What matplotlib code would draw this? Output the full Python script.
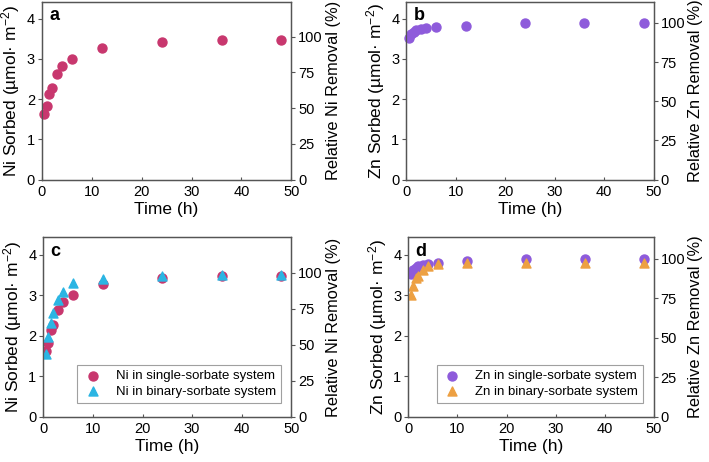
import matplotlib
matplotlib.use("Agg")
import matplotlib.pyplot as plt

plt.rcParams["font.family"] = ["Liberation Sans", "DejaVu Sans"]
plt.rcParams["mathtext.default"] = "regular"

# sampling times (h)
time_h = [0.5, 1, 1.5, 2, 3, 4, 6, 12, 24, 36, 48]

# sorbed amounts (umol m-2)
ni_single = [1.63, 1.83, 2.13, 2.27, 2.62, 2.83, 3.01, 3.27, 3.41, 3.47, 3.48]
ni_binary = [1.55, 1.96, 2.30, 2.56, 2.88, 3.07, 3.30, 3.40, 3.47, 3.49, 3.49]
zn_single = [3.51, 3.63, 3.67, 3.72, 3.74, 3.77, 3.79, 3.83, 3.89, 3.89, 3.89]
zn_binary = [3.01, 3.23, 3.43, 3.48, 3.63, 3.71, 3.76, 3.78, 3.78, 3.78, 3.78]

ni_full = 3.556  # sorbed amount that equals 100 % removal
zn_full = 3.90

NI_COLOR = "#C8376E"
ZN_COLOR = "#8E5BDB"
NI_BIN_COLOR = "#2BB5E3"
ZN_BIN_COLOR = "#EDA042"

SPINE = "#555555"
YMAX = 4.42

fig = plt.figure(figsize=(7.09, 4.62), dpi=100)

positions = {
    "a": [0.059, 0.611, 0.352, 0.385],
    "b": [0.573, 0.611, 0.349, 0.385],
    "c": [0.061, 0.098, 0.350, 0.388],
    "d": [0.576, 0.098, 0.346, 0.388],
}


def make_panel(key, metal, full):
    ax = fig.add_axes(positions[key])
    ax.set_xlim(0, 50)
    ax.set_ylim(0, YMAX)
    ax.set_xticks([0, 10, 20, 30, 40, 50])
    ax.set_yticks([0, 1, 2, 3, 4])
    for sp in ax.spines.values():
        sp.set_color(SPINE)
        sp.set_linewidth(0.9)
    ax.tick_params(axis="y", direction="out", length=3, width=0.8,
                   color=SPINE, labelsize=10.5, pad=2)
    ax.tick_params(axis="x", direction="in", length=2, width=0.8,
                   color=SPINE, labelsize=10.5, pad=4)
    ax.set_xlabel("Time (h)", fontsize=12.5, labelpad=2)
    ax.set_ylabel(f"{metal} Sorbed (\u00b5mol\u00b7 m$^{{-2}}$)", fontsize=12.5,
                  labelpad=3)
    ax.text(0.03, 0.97, key, transform=ax.transAxes, fontsize=13,
            fontweight="bold", va="top", ha="left")

    ax2 = ax.twinx()
    ax2.set_ylim(0, YMAX / full * 100)
    ax2.set_yticks([0, 25, 50, 75, 100])
    for sp in ax2.spines.values():
        sp.set_color(SPINE)
        sp.set_linewidth(0.9)
    ax2.tick_params(axis="y", direction="out", length=3, width=0.8,
                    color=SPINE, labelsize=10.5, pad=2)
    ax2.set_ylabel(f"Relative {metal} Removal (%)", fontsize=11.8, labelpad=2)
    return ax


ax_a = make_panel("a", "Ni", ni_full)
ax_a.scatter(time_h, ni_single, s=42, color=NI_COLOR, zorder=3, clip_on=False)

ax_b = make_panel("b", "Zn", zn_full)
ax_b.scatter(time_h, zn_single, s=42, color=ZN_COLOR, zorder=3, clip_on=False)

ax_c = make_panel("c", "Ni", ni_full)
ax_c.scatter(time_h, ni_single, s=42, color=NI_COLOR, zorder=3,
             label="Ni in single-sorbate system")
ax_c.scatter(time_h, ni_binary, s=42, marker="^", color=NI_BIN_COLOR, zorder=4,
             label="Ni in binary-sorbate system")

ax_d = make_panel("d", "Zn", zn_full)
ax_d.scatter(time_h, zn_single, s=42, color=ZN_COLOR, zorder=3,
             label="Zn in single-sorbate system")
ax_d.scatter(time_h, zn_binary, s=42, marker="^", color=ZN_BIN_COLOR, zorder=4,
             label="Zn in binary-sorbate system")

for ax in (ax_c, ax_d):
    leg = ax.legend(loc="lower right", bbox_to_anchor=(0.985, 0.04),
                    fontsize=9.5, frameon=True, fancybox=False,
                    handletextpad=1.0, borderpad=0.4, labelspacing=0.25,
                    handlelength=1.5)
    leg.get_frame().set_edgecolor("#888888")
    leg.get_frame().set_linewidth(0.8)

fig.savefig("out.png", dpi=100)
